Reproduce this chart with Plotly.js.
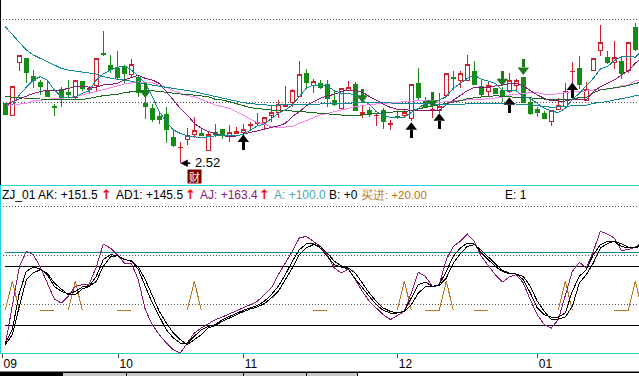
<!DOCTYPE html>
<html><head><meta charset="utf-8">
<script src="https://cdn.plot.ly/plotly-3.0.1.min.js"></script>
<style>html,body{margin:0;padding:0;background:#fff}
.scatterlayer path.js-line{shape-rendering:crispEdges}
.boxlayer path{shape-rendering:crispEdges}</style></head>
<body><div id="chart" style="width:639px;height:376px"></div>
<script>
// Candles: index 0..90, values in panel units (3 units = 1 pixel of the reference price pane)
const open=[245,208,367,381,327,307,283,236,287,279,263,311,287,300,395,360,350,356,331,323,245,231,205,213,144,112,137,151,155,103,158,168,150,155,159,180,186,187,208,217,236,247,265,335,300,304,303,255,229,283,303,213,225,208,225,181,206,208,200,305,250,224,225,269,322,313,315,342,297,280,291,283,280,299,324,249,228,216,190,226,235,340,351,255,343,403,384,369,372,343,474];
const high=[245,296,389,381,345,315,315,243,293,315,314,311,297,380,462,390,402,360,377,323,263,243,223,235,162,128,170,205,170,160,183,168,180,174,183,190,216,205,237,255,297,289,372,348,317,315,315,283,290,312,308,237,233,215,230,195,218,225,302,350,265,233,275,335,342,342,390,372,315,312,291,293,335,317,324,258,235,222,224,260,305,369,387,308,380,480,402,431,387,428,487];
const low=[213,208,342,307,292,270,265,208,235,260,258,282,273,279,387,335,318,307,323,265,198,188,183,125,115,65,120,142,147,103,145,138,130,152,145,163,177,165,190,202,235,235,265,292,277,288,235,237,229,283,222,201,205,177,168,165,198,205,193,255,230,202,215,269,285,290,315,299,265,265,276,250,277,285,247,210,205,198,177,225,235,305,288,255,343,387,363,348,318,337,403];
const close=[213,296,389,339,314,297,267,234,262,273,314,289,289,380,393,348,323,334,362,277,235,198,196,168,119,114,149,164,150,152,151,150,158,161,167,182,188,203,218,241,238,285,332,309,311,294,259,243,290,293,225,219,211,210,190,185,204,219,302,264,233,226,235,335,319,335,362,303,273,298,276,265,314,314,249,216,217,201,224,239,280,342,303,287,380,428,368,383,335,428,407];
// Price pane moving averages, index 0..91
const maFast=[null,240,270,293,315,325,315,285,265,262,265,275,283,315,333,345,353,357,345,327,305,265,220,190,165,155,147,145,141,145,147,150,147,148,152,165,177,183,200,215,225,240,265,290,300,300,297,283,275,275,270,252,243,220,210,203,201,203,218,230,245,250,255,265,290,305,320,330,317,312,305,285,283,283,265,260,245,230,222,217,230,257,275,297,320,348,355,373,385,387,383,405];
const maSlow=[475,452,430,405,390,380,370,360,350,345,342,340,337,333,325,320,317,315,312,307,303,300,297,293,290,287,283,280,275,270,265,260,257,252,247,244,242,240,239,240,240,240,240,242,242,243,243,245,245,245,247,247,246,245,245,245,245,245,245,245,245,243,242,242,242,242,244,245,245,245,245,245,244,243,241,240,239,236,233,235,237,237,239,239,245,248,250,255,258,263,268,272];
const maPurple=[237,250,258,267,275,280,285,285,285,290,295,297,293,293,300,302,305,315,323,329,320,315,305,280,255,230,210,185,170,160,155,148,145,147,153,157,163,167,173,177,185,205,220,237,250,260,267,272,280,285,283,280,265,255,242,233,227,225,223,223,225,225,225,240,255,270,283,293,293,293,297,299,305,305,297,283,270,260,253,252,252,257,257,255,280,295,305,315,330,343,365,383];
const maPink=[238,240,243,245,252,255,257,259,260,262,265,270,275,280,285,290,297,303,307,309,308,307,300,293,283,275,268,265,257,250,240,235,230,220,210,197,187,183,175,173,173,175,185,193,203,210,215,220,227,232,235,238,242,243,245,247,248,249,252,255,255,250,248,250,252,255,257,257,257,259,262,263,270,273,275,277,277,272,271,273,277,280,280,282,285,287,287,290,297,300,313,317];
const maGreen=[265,263,262,260,259,258,257,257,257,257,257,257,260,265,268,270,272,277,280,283,285,283,280,277,275,273,272,270,268,265,257,255,250,245,238,232,229,227,225,225,224,223,222,219,217,215,213,211,210,210,210,210,213,215,217,217,220,220,223,228,233,237,240,245,250,253,259,262,264,265,268,266,264,263,263,262,260,258,256,255,255,258,262,263,277,285,288,292,295,298,305,308];
// Arrows: candle index, tip, tail
const buyIdx=[34,58,62,72,81], buyTip=[148,185,212,260,305], buyTail=[105,142,168,216,260];
const sellIdx=[20,51,61,71,74], sellTip=[265,252,235,300,333], sellTail=[305,288,279,342,378];
// Oscillator pane, index 0..91
const ajLine=[25,140,258,305,295,258,210,162,150,170,200,205,207,258,327,315,295,270,270,220,130,85,55,30,10,0,30,60,75,88,100,108,117,125,135,145,155,175,195,235,270,305,345,350,335,320,295,255,240,252,220,185,155,135,115,100,112,125,180,242,230,200,205,280,320,335,357,335,290,262,235,213,228,235,210,160,115,85,75,100,170,245,272,255,305,365,357,345,308,310,317,335];
const akLine=[30,70,180,245,258,252,235,200,185,177,185,198,202,230,280,295,292,280,277,250,200,150,110,70,45,30,30,50,70,80,85,100,110,120,128,135,142,155,175,200,235,275,310,327,328,315,290,265,258,252,222,195,170,145,128,120,120,125,165,205,213,200,205,245,290,315,330,327,300,280,260,245,238,237,220,180,135,115,108,108,120,185,230,250,295,325,335,335,320,315,317,328];
const ad1Line=[25,55,140,220,240,250,240,210,192,175,175,192,200,215,260,288,292,282,275,258,220,170,125,90,60,40,25,40,55,75,82,95,105,115,124,132,138,148,165,185,220,255,295,315,325,320,300,275,262,255,240,210,180,155,135,125,120,125,145,180,198,200,202,225,270,298,320,325,308,288,268,248,240,237,230,200,155,125,100,102,108,140,210,235,270,315,328,335,328,317,315,322];
const buySigX=[0,1,2,null,5,6,7,null,9,10,11,null,16,17,18,null,26,27,28,null,44,45,46,null,56,57,58,null,60,61,62,63,64,null,67,68,69,null,79,80,81,null,87,88,89,90,91];
const buySigY=[129,215,129,null,129,129,129,null,129,215,129,null,129,129,129,null,129,215,129,null,129,129,129,null,129,215,129,null,129,129,129,215,129,null,129,129,129,null,129,215,129,null,129,129,129,215,129];
const levelA=303, levelHigh=261, levelLow=84;
const gridPrice=[497,248], gridOsc=[441,294,147];
const tickIdx=[-0.47,16.1,34,56,76], tickText=['\u200a09','\u200a10','\u200a11','\u200a12','\u200a01'];

const idx=i=>Array.from({length:i},(_,k)=>k);
const cols={red:'#cc1f2c',green:'#158c15',darkGreen:'#1a7a1a',teal:'#0e8a96',purple:'#8a1a78',pink:'#ff80ff',mg:'#1a6b1a',brown:'#b8761a'};
const xc=idx(91), xl=idx(92);
const line=(y,color,ax)=>({type:'scatter',mode:'lines',x:xl,y:y,line:{color:color,width:1,shape:'linear'},xaxis:ax==2?'x2':'x',yaxis:ax==2?'y2':'y',hoverinfo:'skip',showlegend:false,connectgaps:false});
function arrowTraces(ix,tip,tail,color,size,sym){
  const sx=[],sy=[];
  ix.forEach((v,k)=>{const mid=tip[k]+(tail[k]-tip[k])*0.45;sx.push(v,v,null);sy.push(mid,tail[k],null);});
  return [{type:'scatter',mode:'lines',x:sx,y:sy,line:{color:color,width:3},hoverinfo:'skip',showlegend:false},
          {type:'scatter',mode:'markers',x:ix,y:ix.map((v,k)=>tip[k]+(tail[k]-tip[k])*0.27),marker:{symbol:sym,size:size,color:color,line:{width:0}},hoverinfo:'skip',showlegend:false}];
}
const data=[
 {type:'candlestick',x:xc,open:open,high:high,low:low,close:close,
  increasing:{line:{color:cols.red,width:1},fillcolor:'#ffffff'},
  decreasing:{line:{color:cols.green,width:1},fillcolor:cols.green},
  whiskerwidth:0,hoverinfo:'skip',showlegend:false},
 line(maPink,cols.pink),line(maGreen,cols.mg),line(maPurple,cols.purple),line(maSlow,cols.teal),line(maFast,cols.teal),
 ...arrowTraces(buyIdx,buyTip,buyTail,'#000000',10,'triangle-up'),
 ...arrowTraces(sellIdx,sellTip,sellTail,cols.darkGreen,10,'triangle-down'),
 {type:'scatter',mode:'lines',x:[0,91],y:[levelA,levelA],line:{color:cols.teal,width:1},xaxis:'x2',yaxis:'y2',hoverinfo:'skip',showlegend:false},
 {type:'scatter',mode:'lines',x:[0,91],y:[levelHigh,levelHigh],line:{color:'#000',width:1},xaxis:'x2',yaxis:'y2',hoverinfo:'skip',showlegend:false},
 {type:'scatter',mode:'lines',x:[0,91],y:[levelLow,levelLow],line:{color:'#000',width:1},xaxis:'x2',yaxis:'y2',hoverinfo:'skip',showlegend:false},
 {type:'scatter',mode:'lines',x:buySigX,y:buySigY,line:{color:cols.brown,width:1},xaxis:'x2',yaxis:'y2',hoverinfo:'skip',showlegend:false},
 line(ajLine,cols.purple,2),line(akLine,'#000',2),line(ad1Line,'#000',2)
];
const xr=[-5.3/7,(639-5.3)/7];
const H=376;
const px=y=>1-y/H;
const F='"Liberation Sans",Arial,sans-serif';
const leg=(x,t,c,extra)=>Object.assign({xref:'paper',yref:'paper',x:x/639,y:px(195),xanchor:'left',yanchor:'middle',text:t,showarrow:false,font:{family:F,size:12,color:c},borderpad:0},extra||{});
const upArrow=x=>leg(x,'<b>↑</b>','#f01010',{font:{family:'"DejaVu Sans"',size:13,color:'#f01010'}});
const divider=x=>({type:'line',xref:'paper',yref:'paper',x0:x/639,x1:x/639,y0:0,y1:px(372),line:{color:'#000',width:1}});
const layout={
 width:639,height:376,margin:{l:0,r:0,t:0,b:0},paper_bgcolor:'#fff',plot_bgcolor:'#fff',showlegend:false,boxgap:0.28,
 xaxis:{domain:[0,1],range:xr,showticklabels:false,showgrid:false,zeroline:false,ticks:'',rangeslider:{visible:false},anchor:'y',fixedrange:true},
 yaxis:{domain:[px(185),1],range:[0,555],tickvals:gridPrice,showticklabels:false,ticks:'',showgrid:true,gridcolor:'#555',griddash:'1px,2px',gridwidth:1,zeroline:false,fixedrange:true},
 xaxis2:{domain:[0,1],range:xr,anchor:'y2',tickvals:tickIdx,ticktext:tickText,ticks:'outside',ticklen:4,tickwidth:1,tickcolor:'#444',ticklabelposition:'outside right',tickfont:{family:F,size:12,color:'#000'},showgrid:false,zeroline:false,showline:false,fixedrange:true},
 yaxis2:{domain:[px(353),px(185)],range:[0,504],tickvals:gridOsc,showticklabels:false,ticks:'',showgrid:true,gridcolor:'#555',griddash:'1px,2px',gridwidth:1,zeroline:false,fixedrange:true,anchor:'x2'},
 shapes:[
  {type:'line',xref:'paper',yref:'paper',x0:0,x1:1,y0:px(185.5),y1:px(185.5),line:{color:'#22d3e6',width:1}},
  {type:'line',xref:'paper',yref:'paper',x0:0,x1:1,y0:px(353.5),y1:px(353.5),line:{color:'#22d3e6',width:1}},
  {type:'line',xref:'paper',yref:'paper',x0:0.5/639,x1:0.5/639,y0:px(185),y1:px(353),line:{color:'#22d3e6',width:1}},
  {type:'line',xref:'paper',yref:'paper',x0:0.5/639,x1:0.5/639,y0:px(0),y1:px(185),line:{color:'#000',width:1}},
  {type:'rect',xref:'paper',yref:'paper',x0:0,x1:1,y0:px(371.5),y1:px(373),fillcolor:'#000',line:{width:0}},
  {type:'rect',xref:'paper',yref:'paper',x0:0,x1:63/639,y0:0,y1:px(373),fillcolor:'#000',line:{width:0}},
  {type:'rect',xref:'paper',yref:'paper',x0:63/639,x1:357/639,y0:0,y1:px(373),fillcolor:'#c8c8c8',line:{width:0}},
  divider(126.5),divider(243.5),divider(306.5),divider(357.5)
 ],
 annotations:[
  leg(1,'ZJ_01 AK: +151.5','#000'),
  upArrow(100),
  leg(115,'AD1: +145.5','#000'),
  upArrow(184),
  leg(199,'AJ: +163.4',cols.purple),
  upArrow(258),
  leg(273,'A: +100.0','#4aa6b5'),
  leg(328,'B: +0','#000'),
  leg(360,'买进: +20.00',cols.brown,{font:{family:F,size:11.5,color:cols.brown}}),
  leg(504,'E: 1','#000'),
  {xref:'x',yref:'y',x:25,y:65,ax:13,ay:0,axref:'pixel',ayref:'pixel',text:' ',showarrow:true,arrowhead:2,arrowsize:1,arrowwidth:1.5,arrowcolor:'#000',arrowside:'end',standoff:0},
  {xref:'paper',yref:'paper',x:193.5/639,y:px(162.5),xanchor:'left',yanchor:'middle',text:'2.52',showarrow:false,font:{family:F,size:13,color:'#000'},borderpad:0},
  {xref:'paper',yref:'paper',x:194.5/639,y:px(176.5),xanchor:'center',yanchor:'middle',width:13,height:13,text:'财',showarrow:false,bgcolor:'#7a0000',borderpad:0,font:{family:'"Noto Sans CJK SC"',size:11,color:'#ffffff'}}
 ]
};
Plotly.newPlot('chart',data,layout,{staticPlot:true,displayModeBar:false});
</script></body></html>
